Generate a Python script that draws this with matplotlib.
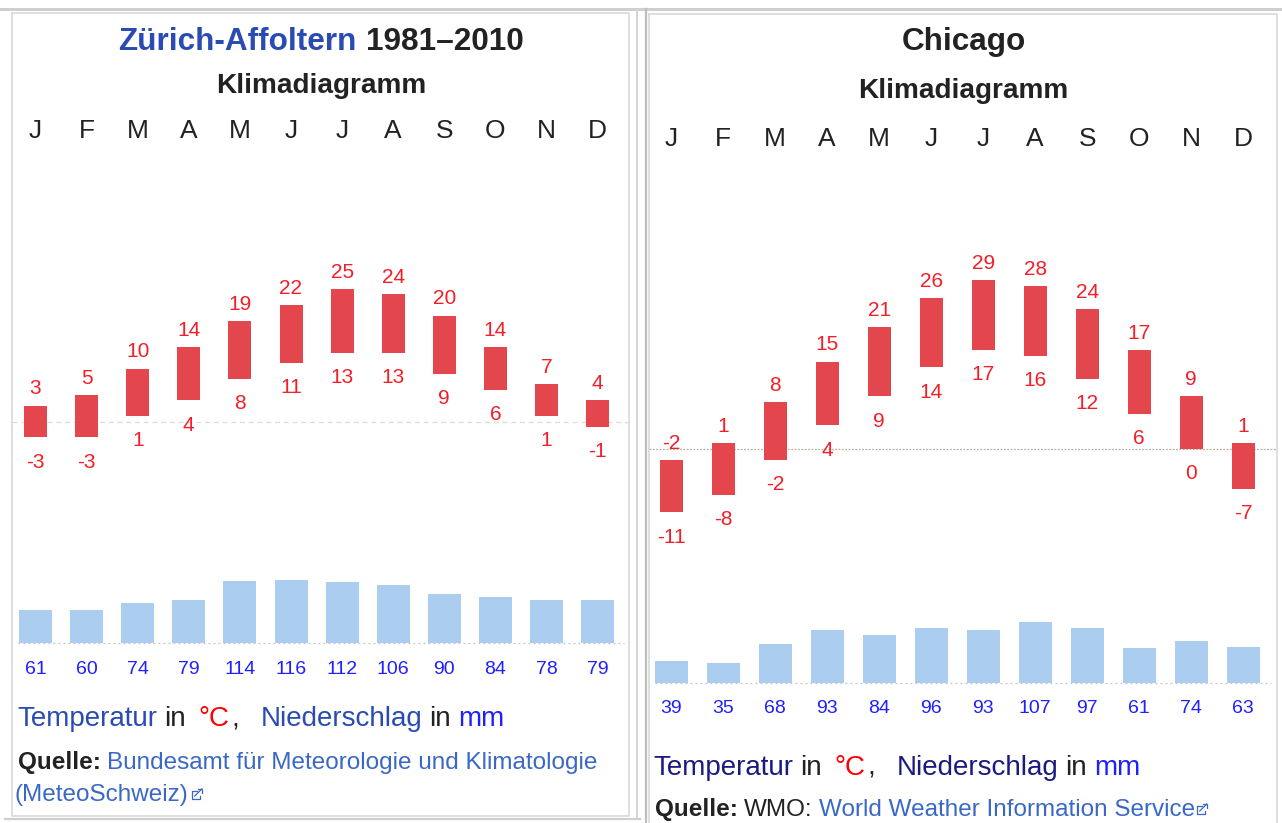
import matplotlib
matplotlib.use('Agg')
import numpy as np
from matplotlib import pyplot as plt
from matplotlib.lines import Line2D
from matplotlib.transforms import blended_transform_factory

plt.rcParams['font.family'] = ['Liberation Sans', 'DejaVu Sans']

# month initials shown above each chart
months = ['J', 'F', 'M', 'A', 'M', 'J', 'J', 'A', 'S', 'O', 'N', 'D']

# Zürich-Affoltern 1981-2010 (deg C and mm)
zurich_max = [3, 5, 10, 14, 19, 22, 25, 24, 20, 14, 7, 4]
zurich_min = [-3, -3, 1, 4, 8, 11, 13, 13, 9, 6, 1, -1]
zurich_rain = [61, 60, 74, 79, 114, 116, 112, 106, 90, 84, 78, 79]

# Chicago (deg C and mm)
chicago_max = [-2, 1, 8, 15, 21, 26, 29, 28, 24, 17, 9, 1]
chicago_min = [-11, -8, -2, 4, 9, 14, 17, 16, 12, 6, 0, -7]
chicago_rain = [39, 35, 68, 93, 84, 96, 93, 107, 97, 61, 74, 63]

# colours
temp_bar_color = '#e3464d'
temp_text_color = '#f41e28'
rain_bar_color = '#abcdef'
rain_text_color = '#1f1fff'
link_blue = '#2a4bb3'
source_blue = '#3a68c6'
visited_blue = '#1b1a80'
dark = '#222222'
border_color = '#d6d6d6'

# figure size in pixels (dpi 100)
W, H = 1282, 823
fig = plt.figure(figsize=(W / 100, H / 100), dpi=100)
fig.patch.set_facecolor('white')
renderer = fig.canvas.get_renderer()


def fig_rect(x0, y0, x1, y1):
    # pixel box (y counted from the top) -> figure fraction rect
    return [x0 / W, 1 - y1 / H, (x1 - x0) / W, (y1 - y0) / H]


def fig_line(xs, ys, color, lw):
    fig.add_artist(Line2D([x / W for x in xs], [1 - y / H for y in ys],
                          color=color, lw=lw, transform=fig.transFigure))


def draw_runs(x, y, runs, size, center=False):
    # draw text pieces of different colours one after another on a baseline
    # runs: (text, colour, weight, gap in pixels before the piece)
    texts = []
    cur = x
    for s, color, weight, gap in runs:
        cur += gap
        t = fig.text(cur / W, 1 - y / H, s, color=color, fontsize=size,
                     fontweight=weight, ha='left', va='baseline')
        cur = t.get_window_extent(renderer).x1
        texts.append(t)
    if center:
        shift = (cur - x) / 2
        for t in texts:
            px, py = t.get_position()
            t.set_position((px - shift / W, py))
        cur -= shift
    return cur


def ext_icon(x, yb, color):
    # small "external link" icon
    fig_line([x + 5, x, x, x + 8, x + 8], [yb - 8, yb - 8, yb, yb, yb - 3], color, 0.9)
    fig_line([x + 3, x + 10], [yb - 3, yb - 10], color, 0.9)
    fig_line([x + 6, x + 10, x + 10], [yb - 10, yb - 10, yb - 6], color, 0.9)


def draw_panel(left, right, first, step, t_zero, t_scale, r_zero, r_scale,
               t_max, t_min, rain, month_y, zero_color, zero_ls):
    idx = np.arange(len(months))
    xlim = ((left - first) / step, (right - first) / step)

    # temperature range bars
    ax_t = fig.add_axes(fig_rect(left, 150, right, 560))
    ax_t.set_xlim(xlim)
    ax_t.set_ylim((t_zero - 560) / t_scale, (t_zero - 150) / t_scale)
    ax_t.axis('off')
    ax_t.axhline(0, color=zero_color, ls=zero_ls, lw=0.9, zorder=1)
    ax_t.bar(idx, np.subtract(t_max, t_min), bottom=t_min, width=23 / step,
             color=temp_bar_color, zorder=2)
    for i in idx:
        ax_t.annotate(str(t_max[i]), (i, t_max[i]), xytext=(0, 8),
                      textcoords='offset points', ha='center', va='baseline',
                      color=temp_text_color, fontsize=15, annotation_clip=False)
        ax_t.annotate(str(t_min[i]), (i, t_min[i]), xytext=(0, -11),
                      textcoords='offset points', ha='center', va='top',
                      color=temp_text_color, fontsize=15, annotation_clip=False)

    # month letters
    trans = blended_transform_factory(ax_t.transData, fig.transFigure)
    for i, m in enumerate(months):
        ax_t.text(i, 1 - month_y / H, m, transform=trans, ha='center',
                  va='baseline', fontsize=19, color=dark)

    # precipitation bars
    ax_r = fig.add_axes(fig_rect(left, 560, right, 700))
    ax_r.set_xlim(xlim)
    ax_r.set_ylim((r_zero - 700) / r_scale, (r_zero - 560) / r_scale)
    ax_r.axis('off')
    ax_r.axhline(0, xmin=0.01, xmax=0.99, color='#c4c4c4', ls=(0, (1.5, 2.5)),
                 lw=0.9, zorder=1)
    ax_r.bar(idx, rain, width=33 / step, color=rain_bar_color, zorder=2)
    for i in idx:
        ax_r.annotate(str(rain[i]), (i, 0), xytext=(0, -12.5),
                      textcoords='offset points', ha='center', va='top',
                      color=rain_text_color, fontsize=14, annotation_clip=False)


# left panel: Zürich-Affoltern
draw_runs(321, 50, [('Zürich-Affoltern', link_blue, 'bold', 0),
                    ('1981–2010', dark, 'bold', 9)], 22.7, center=True)
fig.text(321 / W, 1 - 93 / H, 'Klimadiagramm', ha='center', va='baseline',
         fontsize=20.2, fontweight='bold', color=dark)
draw_panel(12, 630, 35.5, 51.1, 421.5, 5.3, 643.3, 0.55,
           zurich_max, zurich_min, zurich_rain, 138,
           '#dcdcd6', (0, (4, 3)))
draw_runs(17, 726, [('Temperatur', link_blue, 'normal', 0),
                    ('in', dark, 'normal', 7),
                    ('°C', '#ff0000', 'normal', 13),
                    (',', dark, 'normal', 2),
                    ('Niederschlag', link_blue, 'normal', 21),
                    ('in', dark, 'normal', 7),
                    ('mm', '#1f1fff', 'normal', 7)], 20)
draw_runs(18, 769, [('Quelle:', dark, 'bold', 0),
                    ('Bundesamt für Meteorologie und Klimatologie', source_blue,
                     'normal', 6)], 17.5)
end = draw_runs(15, 801, [('(MeteoSchweiz)', source_blue, 'normal', 0)], 17.5)
ext_icon(end + 3, 799, source_blue)

# right panel: Chicago
draw_runs(964, 50, [('Chicago', dark, 'bold', 0)], 22.7, center=True)
fig.text(963 / W, 1 - 98 / H, 'Klimadiagramm', ha='center', va='baseline',
         fontsize=20.2, fontweight='bold', color=dark)
draw_panel(649, 1277, 671.2, 52.0, 448.5, 5.8, 683, 0.57,
           chicago_max, chicago_min, chicago_rain, 146,
           '#b9b09c', (0, (1.5, 1.2)))
draw_runs(653, 775, [('Temperatur', visited_blue, 'normal', 0),
                     ('in', dark, 'normal', 7),
                     ('°C', '#ff0000', 'normal', 13),
                     (',', dark, 'normal', 2),
                     ('Niederschlag', visited_blue, 'normal', 21),
                     ('in', dark, 'normal', 7),
                     ('mm', '#1f1fff', 'normal', 7)], 20)
end = draw_runs(655, 816, [('Quelle:', dark, 'bold', 0),
                           ('WMO:', dark, 'normal', 6),
                           ('World Weather Information Service', source_blue,
                            'normal', 6)], 17.5)
ext_icon(end + 2, 814, source_blue)

# table borders
fig_line([0, W], [9, 9], '#cfcfcf', 2.2)
fig_line([12, 629, 629, 12, 12], [13, 13, 816, 816, 13], border_color, 1.1)
fig_line([5, 640], [819, 819], '#cfcfcf', 1.6)
fig_line([637, 637], [9, 819], '#d4d4d4', 1.4)
fig_line([646, 646], [9, H], '#bdbdbd', 1.6)
fig_line([649, 1277, 1277], [14, 14, H], border_color, 1.1)
fig_line([649, 649], [14, H], border_color, 1.1)

fig.savefig('out.png', dpi=100, facecolor='white')
